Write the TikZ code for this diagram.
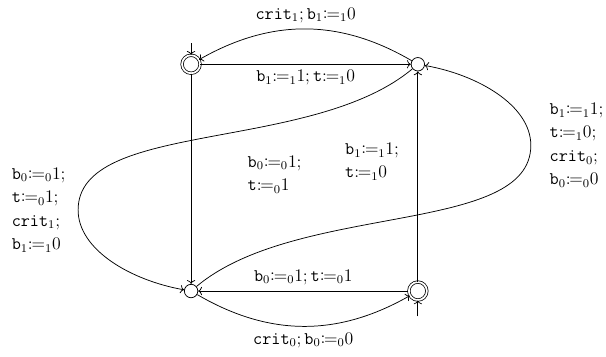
\documentclass[tikz,border=0pt,12pt]{standalone}
\usepackage{amsmath,mathtools}
\usepackage{tikz}
\usetikzlibrary{arrows.meta,positioning}
\newcommand{\vb}[1]{\mathtt{b}_{#1}}
\newcommand{\vt}{\mathtt{t}}
\newcommand{\critv}[1]{\mathtt{crit}_{#1}}
\newcommand{\asn}[1]{{\coloneqq}_{#1}}

\begin{document}
\begin{tikzpicture}[>={To[length=2.6pt,width=5.6pt]},line width=0.5pt]
  \tikzset{loc/.style={circle,draw,minimum size=9.1pt,inner sep=0pt},
    locacc/.style={loc,double,double distance=1.2pt,minimum size=12.2pt},
    multi/.style={align=left,font=\linespread{1.1}\selectfont}}
  \useasboundingbox (-4.55,-1.55) rectangle (9.88,6.93);
  \node[loc] (C) at (0,0) {};
  \node[locacc] (A) at (0,5.4) {};
  \node[loc] (B) at (5.4,5.4) {};
  \node[locacc] (D) at (5.4,0) {};
  \coordinate[above=0.28cm of A] (Ain);
  \coordinate[below=0.38cm of D] (Din);
  \coordinate (wl) at (-2.69,1.93);
  \coordinate (wr) at (8.09,3.47);
  % initial locations
  \draw[->] (Ain) -- (A);
  \draw[->] (Din) -- (D);
  % process 1
  \draw[->] (A) -- node[below] (l1) {$\vb{1}\asn{1}1;\vt\asn{1}0$} (B);
  \draw[->] (B) to[bend right=30] node[above] (l2) {$\critv{1};\vb{1}\asn{1}0$} (A);
  \draw[->] (D) -- node[pos=0.57,left,xshift=-0.3cm,multi] (l3) {$\vb{1}\asn{1}1;$\\$\vt\asn{1}0$} (B);
  % process 0
  \draw[->] (D) -- node[above] (l4) {$\vb{0}\asn{0}1;\vt\asn{0}1$} (C);
  \draw[->] (C) to[bend right=30] node[below] (l5) {$\critv{0};\vb{0}\asn{0}0$} (D);
  \draw[->] (A) -- node[pos=0.48,right,xshift=1.2cm,multi] (l6) {$\vb{0}\asn{0}1;$\\$\vt\asn{0}1$} (C);
  % crossing loops
  \draw[->] (B) .. controls +(220:3.3) and +(90:2.15) .. (wl)
    node[left=1.5mm,multi] (l7) {$\vb{0}\asn{0}1;$\\$\vt\asn{0}1;$\\$\critv{1};$\\$\vb{1}\asn{1}0$}
    .. controls +(270:0.95) and +(170:1.45) .. (C);
  \draw[->] (C) .. controls +(40:3.3) and +(270:2.15) .. (wr)
    node[right=3mm,multi] (l8) {$\vb{1}\asn{1}1;$\\$\vt\asn{1}0;$\\$\critv{0};$\\$\vb{0}\asn{0}0$}
    .. controls +(90:0.95) and +(-10:1.45) .. (B);
\end{tikzpicture}
\end{document}
